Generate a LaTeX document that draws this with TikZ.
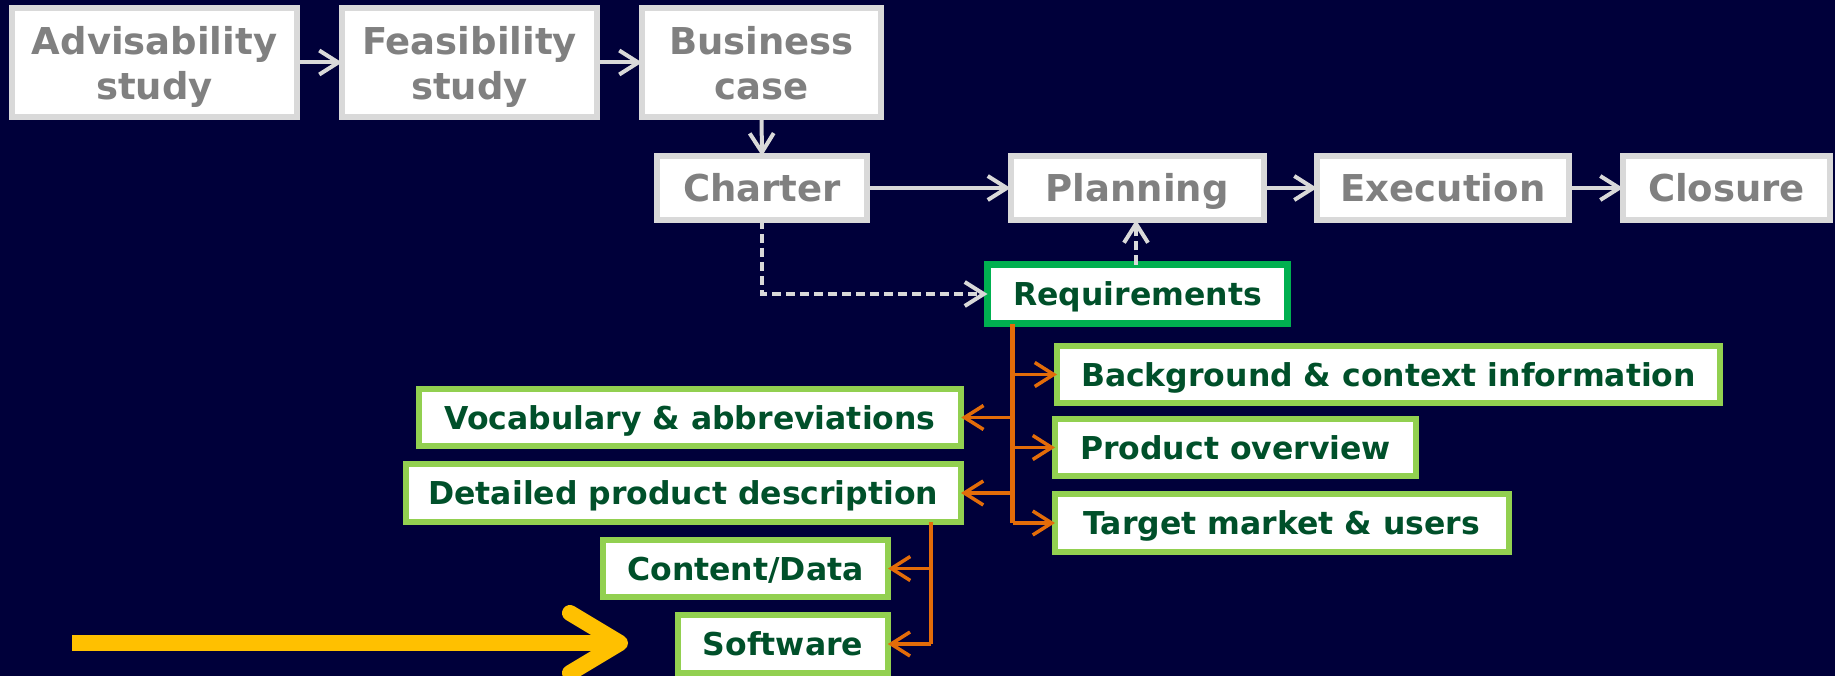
\documentclass[tikz,border=0pt]{standalone}
\usepackage{fontspec}
\setmainfont{DejaVu Sans}
\usetikzlibrary{arrows.meta,calc}
\definecolor{bgnavy}{RGB}{0,0,58}
\definecolor{boxgrey}{RGB}{217,217,217}
\definecolor{txtgrey}{RGB}{128,128,128}
\definecolor{txtgreen}{RGB}{0,80,42}
\definecolor{reqgreen}{RGB}{0,176,80}
\definecolor{litegreen}{RGB}{146,208,80}
\definecolor{conorange}{RGB}{227,108,9}
\definecolor{arrowyellow}{RGB}{255,192,0}
\newcommand{\twolines}[2]{\begin{tabular}[t]{@{}c@{}}#1\\#2\end{tabular}}
\tikzset{
  x=1pt,y=-1pt,
  greybox/.style={draw=boxgrey,fill=white,line width=6pt,text=txtgrey,
    font=\fontsize{37}{45}\selectfont\bfseries,inner sep=0pt,outer sep=0pt,
    text height=27pt,text depth=0pt},
  greybox2/.style={greybox,text height=28pt,text depth=43pt},
  greenbox/.style={draw=litegreen,fill=white,line width=6pt,text=txtgreen,
    font=\fontsize{31.5}{38}\selectfont\bfseries,inner sep=0pt,outer sep=0pt,
    text height=23pt,text depth=0pt},
  reqbox/.style={greenbox,draw=reqgreen,line width=7pt},
  greyarrow/.style={draw=boxgrey,line width=4pt,-{Straight Barb[length=19pt,width=24pt]}},
  greydash/.style={greyarrow,dash pattern=on 9pt off 5pt},
  orangetrunk/.style={draw=conorange,line width=5pt},
  orangearrow/.style={draw=conorange,line width=3.5pt,-{Straight Barb[length=19pt,width=24pt]}},
  bigarrow/.style={draw=arrowyellow,line width=16pt,-{Straight Barb[length=50pt,width=60pt,round]}}
}
\begin{document}
\begin{tikzpicture}
\fill[bgnavy] (0,0) rectangle (1835,676);
\useasboundingbox (0,0) rectangle (1835,676);
% top row
\node[greybox2,minimum width=285pt,minimum height=109pt] (adv) at (154.5,62.5) {\twolines{Advisability}{study}};
\node[greybox2,minimum width=255pt,minimum height=109pt] (fea) at (469.5,62.5) {\twolines{Feasibility}{study}};
\node[greybox2,minimum width=239pt,minimum height=109pt] (bus) at (761.5,62.5) {\twolines{Business}{case}};
% second row
\node[greybox,minimum width=210pt,minimum height=64pt] (cha) at (762,188) {Charter};
\node[greybox,minimum width=253pt,minimum height=64pt] (pla) at (1137,188) {Planning};
\node[greybox,minimum width=252pt,minimum height=64pt] (exe) at (1443,188) {Execution};
\node[greybox,minimum width=207pt,minimum height=64pt] (clo) at (1726.5,188) {Closure};
% requirements
\node[reqbox,minimum width=300pt,minimum height=59pt] (req) at (1137.5,294) {Requirements};
% right branches
\node[greenbox,minimum width=663pt,minimum height=57pt] (bg) at (1388.5,374.5) {Background \& context information};
\node[greenbox,minimum width=361pt,minimum height=57pt] (pov) at (1235.5,447.5) {Product overview};
\node[greenbox,minimum width=453.5pt,minimum height=58pt] (tgt) at (1281.75,523) {Target market \& users};
% left branches
\node[greenbox,minimum width=542.5pt,minimum height=57pt] (voc) at (690,417.5) {Vocabulary \& abbreviations};
\node[greenbox,minimum width=555.4pt,minimum height=58pt] (det) at (683.3,493) {Detailed product description};
\node[greenbox,minimum width=285pt,minimum height=57pt] (con) at (745.5,568.5) {Content/Data};
\node[greenbox,minimum width=209.5pt,minimum height=58pt] (sof) at (783,644) {Software};
% grey connectors
\draw[greyarrow] (adv) -- (fea);
\draw[greyarrow] (fea) -- (bus);
\draw[greyarrow] (bus.south) -- (cha.north);
\draw[greyarrow] (cha) -- (pla);
\draw[greyarrow] (pla) -- (exe);
\draw[greyarrow] (exe) -- (clo);
\draw[greydash] (cha.south) |- (req.west);
\coordinate (rtop) at ($(req.north)+(-1.5,0)$);
\draw[greydash] (rtop) -- (rtop |- pla.south);
% orange trunk from requirements
\coordinate (t0) at ($(req.south west)+(25,0)$);
\coordinate (t1) at (t0 |- tgt.west);
\draw[orangetrunk] (t0) -- (t1);
\draw[orangearrow] (t0 |- bg.west) -- (bg.west);
\draw[orangearrow] (t0 |- voc.east) -- (voc.east);
\draw[orangearrow] (t0 |- pov.west) -- (pov.west);
\draw[orangearrow] (t0 |- det.east) -- (det.east);
\draw[orangearrow] (t1) -- (tgt.west);
% orange trunk from detailed description
\coordinate (d0) at ($(det.south east)+(-30,0)$);
\coordinate (d1) at (d0 |- sof.east);
\draw[orangetrunk,line width=3.5pt] (d0) -- (d1);
\draw[orangearrow] (d0 |- con.east) -- (con.east);
\draw[orangearrow] (d1) -- (sof.east);
% yellow arrow
\coordinate (ya) at (72,643);
\coordinate (yb) at (628,643);
\draw[bigarrow] (ya) -- (yb);
\end{tikzpicture}
\end{document}
